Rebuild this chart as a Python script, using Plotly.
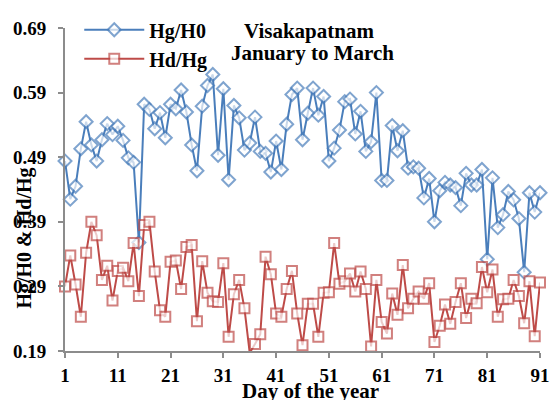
import plotly.graph_objects as go

days = list(range(1, 92))

hg_h0 = [0.484, 0.425, 0.445, 0.503, 0.545, 0.509, 0.484, 0.517, 0.542, 0.525,
         0.538, 0.516, 0.489, 0.482, 0.358, 0.572, 0.564, 0.534, 0.559, 0.520,
         0.572, 0.565, 0.594, 0.560, 0.509, 0.469, 0.569, 0.601, 0.618, 0.493,
         0.596, 0.455, 0.570, 0.551, 0.501, 0.512, 0.552, 0.499, 0.496, 0.467,
         0.515, 0.471, 0.541, 0.587, 0.597, 0.517, 0.558, 0.597, 0.555, 0.584,
         0.484, 0.504, 0.532, 0.576, 0.580, 0.526, 0.561, 0.499, 0.514, 0.590,
         0.454, 0.454, 0.539, 0.500, 0.531, 0.473, 0.475, 0.473, 0.427, 0.457,
         0.390, 0.438, 0.451, 0.447, 0.443, 0.415, 0.465, 0.447, 0.447, 0.471,
         0.332, 0.458, 0.381, 0.401, 0.437, 0.424, 0.395, 0.312, 0.435, 0.405,
         0.435]

hd_hg = [0.290, 0.338, 0.293, 0.243, 0.342, 0.390, 0.369, 0.300, 0.322, 0.268,
         0.314, 0.319, 0.298, 0.357, 0.275, 0.385, 0.390, 0.313, 0.253, 0.243,
         0.328, 0.330, 0.286, 0.351, 0.354, 0.236, 0.329, 0.280, 0.267, 0.266,
         0.326, 0.212, 0.278, 0.300, 0.256, 0.187, 0.201, 0.216, 0.336, 0.309,
         0.248, 0.243, 0.286, 0.314, 0.248, 0.199, 0.263, 0.263, 0.212, 0.280,
         0.281, 0.357, 0.294, 0.298, 0.310, 0.282, 0.313, 0.286, 0.197, 0.300,
         0.235, 0.217, 0.279, 0.246, 0.323, 0.256, 0.271, 0.282, 0.271, 0.295,
         0.204, 0.229, 0.262, 0.232, 0.266, 0.295, 0.241, 0.271, 0.264, 0.320,
         0.281, 0.316, 0.243, 0.270, 0.271, 0.300, 0.275, 0.233, 0.298, 0.213,
         0.296]

x_ticks = [1, 11, 21, 31, 41, 51, 61, 71, 81, 91]
y_ticks = [0.19, 0.29, 0.39, 0.49, 0.59, 0.69]
y_min, y_max = 0.19, 0.69

BLUE = "#4A7EBB"
RED = "#BE4B48"
FONT = "Liberation Serif"


def sizes(vals, s):
    return [s if y_min <= v <= y_max else 0 for v in vals]


fig = go.Figure()
fig.add_trace(go.Scatter(
    x=days, y=hg_h0, name="Hg/H0", mode="lines+markers",
    line=dict(color=BLUE, width=2),
    marker=dict(symbol="diamond", size=sizes(hg_h0, 10), color="white",
                line=dict(color=BLUE, width=2)),
    cliponaxis=False))
fig.add_trace(go.Scatter(
    x=days, y=hd_hg, name="Hd/Hg", mode="lines+markers",
    line=dict(color=RED, width=2),
    marker=dict(symbol="square", size=sizes(hd_hg, 10), color="white",
                line=dict(color=RED, width=2)),
    cliponaxis=False))

tick_font = dict(family=FONT, size=19, color="black", weight="bold")
big_font = dict(family=FONT, size=21, color="black", weight="bold")

fig.update_layout(
    width=560, height=400,
    margin=dict(l=65, r=10, t=22, b=49),
    paper_bgcolor="white", plot_bgcolor="white",
    font=dict(family=FONT, size=19, color="black", weight="bold"),
    showlegend=True,
    legend=dict(x=0.03, y=1.055, xanchor="left", yanchor="top",
                bgcolor="rgba(0,0,0,0)", tracegroupgap=0,
                font=dict(family=FONT, size=20, color="black", weight="bold"),
                itemwidth=60),
    xaxis=dict(range=[1, 91], tickvals=x_ticks, showgrid=False, zeroline=False,
               showline=True, linecolor="#8C8C8C", linewidth=2,
               ticks="outside", ticklen=5, tickcolor="#8C8C8C", tickwidth=2,
               tickfont=tick_font, ticklabelstandoff=1),
    yaxis=dict(range=[y_min, y_max], tickvals=y_ticks,
               ticktext=[f"{v:.2f}" for v in y_ticks],
               showgrid=False, zeroline=False,
               showline=True, linecolor="#8C8C8C", linewidth=2,
               ticks="outside", ticklen=5, tickcolor="#8C8C8C", tickwidth=2,
               tickfont=tick_font, ticklabelstandoff=8),
    annotations=[
        dict(text="Visakapatnam", x=0.513, y=0.99,
             xref="paper", yref="paper", xanchor="center", yanchor="middle",
             showarrow=False, font=big_font),
        dict(text="January to March", x=0.522, y=0.924,
             xref="paper", yref="paper", xanchor="center", yanchor="middle",
             showarrow=False, font=big_font),
        dict(text="Day of the year", x=0.517, y=-0.082, xref="paper", yref="paper",
             xanchor="center", yanchor="top", showarrow=False, font=big_font),
        dict(text="Hg/H0 & Hd/Hg", x=-0.085, y=0.35, xref="paper", yref="paper",
             xanchor="center", yanchor="middle", textangle=-90, showarrow=False,
             font=dict(family=FONT, size=20, color="black", weight="bold")),
    ],
)

fig.write_html("out.html")
